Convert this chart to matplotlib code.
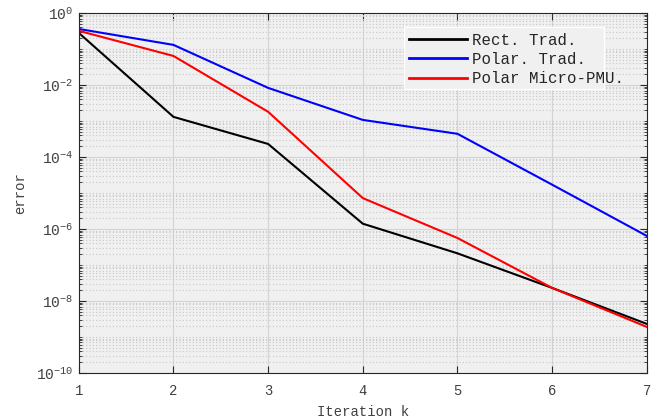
import numpy as np
import matplotlib; matplotlib.use("Agg")
import matplotlib.pyplot as plt
from matplotlib.ticker import LogLocator, FixedLocator
from matplotlib.patches import Rectangle

plt.rcParams["font.family"] = ["Liberation Mono", "DejaVu Sans Mono"]
plt.rcParams["mathtext.fontset"] = "custom"
plt.rcParams["mathtext.rm"] = "Liberation Sans"
plt.rcParams["mathtext.it"] = "Liberation Sans"

iters = [1, 2, 3, 4, 5, 6, 7]
rect_trad = [0.28, 1.3e-3, 2.3e-4, 1.4e-6, 2.1e-7, 2.3e-8, 2.3e-9]
polar_trad = [0.36, 0.13, 8.3e-3, 1.07e-3, 4.4e-4, 1.7e-5, 6.4e-7]
polar_micro = [0.32, 0.064, 1.8e-3, 7.2e-6, 5.6e-7, 2.3e-8, 1.9e-9]

txt = "#262626"
fig = plt.figure(figsize=(6.62, 4.19), dpi=100)
ax = fig.add_axes([0.119, 0.110, 0.858, 0.859])
ax.set_facecolor("#f0f0f0")

ax.plot(iters, rect_trad, color="k", lw=1.5, label="Rect. Trad.")
ax.plot(iters, polar_trad, color="#0000ff", lw=1.5, label="Polar. Trad.")
ax.plot(iters, polar_micro, color="#ff0000", lw=1.5, label="Polar Micro-PMU.")

ax.set_yscale("log")
ax.set_xlim(1, 7); ax.set_ylim(1e-10, 1)
ax.yaxis.set_major_locator(FixedLocator([1e-10, 1e-8, 1e-6, 1e-4, 1e-2, 1]))
ax.yaxis.set_minor_locator(LogLocator(base=10, subs=np.arange(1, 10), numticks=20))
ax.yaxis.set_minor_formatter(plt.NullFormatter())
ax.set_xticks(iters)

ax.grid(True, which="major", color="#d4d4d4", lw=0.8)
ax.grid(True, which="minor", axis="y", color="#c8c8c8", lw=0.8, ls=(0, (1, 2)))
ax.set_axisbelow(True)

ax.tick_params(which="both", direction="in", top=True, right=True, colors=txt,
               labelcolor="#404040")
ax.tick_params(axis="y", labelsize=10.5, pad=4)
ax.tick_params(axis="x", labelsize=10, pad=8)
ax.tick_params(which="major", length=5)
ax.tick_params(which="minor", length=2.5)
for s in ax.spines.values():
    s.set_color(txt); s.set_linewidth(0.8)

ax.set_xlabel("Iteration k", fontsize=10, color="#404040", labelpad=5)
ax.set_ylabel("error", fontsize=10, color="#404040", labelpad=6)

# legend box (text overflows it slightly, like the original)
ax.add_patch(Rectangle((0.572, 0.789), 0.352, 0.172, transform=ax.transAxes,
                       facecolor="#f0f0f0", edgecolor="white", lw=1.0, zorder=4))
leg = ax.legend(loc="upper left", bbox_to_anchor=(0.572, 0.961), fontsize=11.3,
                frameon=False, handlelength=3.7, handletextpad=0.3,
                borderpad=0.35, labelspacing=0.27, borderaxespad=0)
for t in leg.get_texts():
    t.set_color(txt)
for h in leg.get_lines():
    h.set_linewidth(2)

fig.savefig("out.png", dpi=100)
